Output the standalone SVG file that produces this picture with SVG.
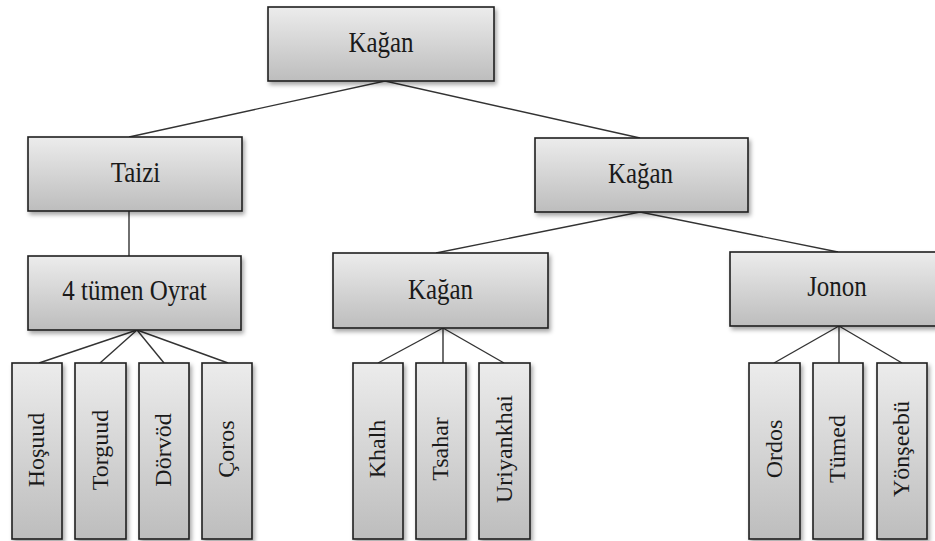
<svg xmlns="http://www.w3.org/2000/svg" width="935" height="541" viewBox="0 0 935 541">
<defs>
<linearGradient id="g" x1="0" y1="0" x2="0" y2="1">
<stop offset="0" stop-color="#ececec"/>
<stop offset="1" stop-color="#bdbdbd"/>
</linearGradient>
<filter id="sh" x="-10%" y="-10%" width="130%" height="130%">
<feDropShadow dx="2" dy="3" stdDeviation="2" flood-color="#000" flood-opacity="0.35"/>
</filter>
</defs>
<style>
.box{fill:url(#g);stroke:#1e1e1e;stroke-width:1.6;filter:url(#sh)}
.t{font-size:25px;fill:#1a1a1a;text-anchor:middle}
.v{font-size:24px;fill:#1a1a1a;text-anchor:middle}
.c{stroke:#333;stroke-width:1.4;fill:none}
</style>
<rect width="935" height="541" fill="#fff"/>
<g id="connectors">
<polyline class="c" points="129,137 385,81 640,138"/>
<line class="c" x1="129" y1="211" x2="129" y2="256"/>
<polyline class="c" points="436,253 640,212 838,252"/>
<line class="c" x1="137" y1="330" x2="39" y2="363"/>
<line class="c" x1="137" y1="330" x2="100" y2="363"/>
<line class="c" x1="137" y1="330" x2="164" y2="363"/>
<line class="c" x1="137" y1="330" x2="228" y2="363"/>
<line class="c" x1="443" y1="328" x2="378" y2="363"/>
<line class="c" x1="443" y1="328" x2="443" y2="363"/>
<line class="c" x1="443" y1="328" x2="504" y2="363"/>
<line class="c" x1="839" y1="326" x2="774" y2="363"/>
<line class="c" x1="839" y1="326" x2="839" y2="363"/>
<line class="c" x1="839" y1="326" x2="902" y2="363"/>
</g>
<g font-family="'Liberation Serif', 'DejaVu Serif', serif">
<g id="kagan-top">
<rect class="box" x="268" y="7" width="226" height="74"/>
<text class="t" transform="translate(381,52) scale(1,1.15)">Kağan</text>
</g>
<g id="taizi">
<rect class="box" x="28" y="137" width="214" height="74"/>
<text class="t" transform="translate(135.5,182) scale(1,1.15)">Taizi</text>
</g>
<g id="kagan-2">
<rect class="box" x="535" y="138" width="213" height="74"/>
<text class="t" transform="translate(640.5,182.5) scale(1,1.15)">Kağan</text>
</g>
<g id="oyrat">
<rect class="box" x="28" y="256" width="213" height="74"/>
<text class="t" transform="translate(134.5,300) scale(1,1.15)">4 tümen Oyrat</text>
</g>
<g id="kagan-3">
<rect class="box" x="333" y="253" width="215" height="75"/>
<text class="t" transform="translate(440.5,299) scale(1,1.15)">Kağan</text>
</g>
<g id="jonon">
<rect class="box" x="730" y="252" width="214" height="74"/>
<text class="t" transform="translate(837,295.5) scale(1,1.15)">Jonon</text>
</g>
<g id="hosuud">
<rect class="box" x="12" y="363" width="50" height="176"/>
<text class="v" transform="translate(44,450) rotate(-90)">Hoşuud</text>
</g>
<g id="torguud">
<rect class="box" x="75" y="363" width="51" height="176"/>
<text class="v" transform="translate(107.5,450) rotate(-90)">Torguud</text>
</g>
<g id="dorvod">
<rect class="box" x="139" y="363" width="50" height="176"/>
<text class="v" transform="translate(171,450) rotate(-90)">Dörvöd</text>
</g>
<g id="coros">
<rect class="box" x="202" y="363" width="50" height="176"/>
<text class="v" transform="translate(234,449) rotate(-90)">Çoros</text>
</g>
<g id="khalh">
<rect class="box" x="353" y="363" width="50" height="176"/>
<text class="v" transform="translate(385,449) rotate(-90)">Khalh</text>
</g>
<g id="tsahar">
<rect class="box" x="416" y="363" width="50" height="176"/>
<text class="v" transform="translate(448,449) rotate(-90)">Tsahar</text>
</g>
<g id="uriyankhai">
<rect class="box" x="479" y="363" width="51" height="176"/>
<text class="v" transform="translate(511.5,449) rotate(-90)">Uriyankhai</text>
</g>
<g id="ordos">
<rect class="box" x="749" y="363" width="51" height="176"/>
<text class="v" transform="translate(781.5,449) rotate(-90)">Ordos</text>
</g>
<g id="tumed">
<rect class="box" x="813" y="363" width="50" height="176"/>
<text class="v" transform="translate(845,449) rotate(-90)">Tümed</text>
</g>
<g id="yonseebu">
<rect class="box" x="877" y="363" width="50" height="176"/>
<text class="v" transform="translate(909,449) rotate(-90)">Yönşeebü</text>
</g>
</g>
</svg>
